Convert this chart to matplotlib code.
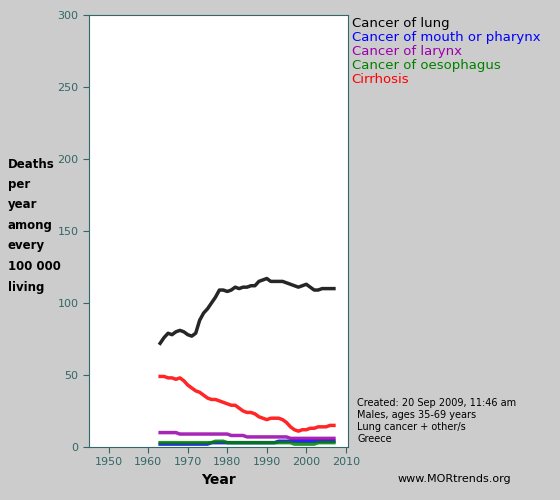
import numpy as np
import matplotlib
matplotlib.use("Agg")
import matplotlib.pyplot as plt

years = list(range(1963, 2008))
lung = [72, 76, 79, 78, 80, 81, 80, 78, 77, 79,
        88, 93, 96, 100, 104, 109, 109, 108, 109, 111,
        110, 111, 111, 112, 112, 115, 116, 117, 115, 115,
        115, 115, 114, 113, 112, 111, 112, 113, 111, 109,
        109, 110, 110, 110, 110]
mouth = [2, 2, 2, 2, 2, 2, 2, 2, 2, 2,
         2, 2, 2, 3, 3, 3, 3, 3, 3, 3,
         3, 3, 3, 3, 3, 3, 3, 3, 3, 3,
         4, 4, 4, 4, 4, 4, 4, 4, 4, 4,
         4, 4, 4, 4, 4]
larynx = [10, 10, 10, 10, 10, 9, 9, 9, 9, 9,
          9, 9, 9, 9, 9, 9, 9, 9, 8, 8,
          8, 8, 7, 7, 7, 7, 7, 7, 7, 7,
          7, 7, 7, 6, 6, 6, 6, 6, 6, 6,
          6, 6, 6, 6, 6]
oesophagus = [3, 3, 3, 3, 3, 3, 3, 3, 3, 3,
              3, 3, 3, 3, 4, 4, 4, 3, 3, 3,
              3, 3, 3, 3, 3, 3, 3, 3, 3, 3,
              3, 3, 3, 3, 2, 2, 2, 2, 2, 2,
              3, 3, 3, 3, 3]
cirrhosis = [49, 49, 48, 48, 47, 48, 46, 43, 41, 39,
             38, 36, 34, 33, 33, 32, 31, 30, 29, 29,
             27, 25, 24, 24, 23, 21, 20, 19, 20, 20,
             20, 19, 17, 14, 12, 11, 12, 12, 13, 13,
             14, 14, 14, 15, 15]

series = [("Cancer of lung", lung, "black"),
          ("Cancer of mouth or pharynx", mouth, "blue"),
          ("Cancer of larynx", larynx, "#9900aa"),
          ("Cancer of oesophagus", oesophagus, "green"),
          ("Cirrhosis", cirrhosis, "red")]

fig = plt.figure(figsize=(5.6, 5.0), dpi=100, facecolor="#cccccc")
ax = fig.add_axes([0.159, 0.106, 0.462, 0.864])
ax.set_facecolor("white")

for name, vals, col in series:
    ax.plot(years, vals, color=col, lw=2.5, alpha=0.85)

ax.set_xlim(1945, 2010.5)
ax.set_ylim(0, 300)
ax.set_xticks(range(1950, 2011, 10))
ax.set_yticks(range(0, 301, 50))
ax.tick_params(colors="#336666", labelsize=8, length=4)
for s in ax.spines.values():
    s.set_color("#336666")
ax.set_xlabel("Year", fontsize=10, fontweight="bold", labelpad=4)

for i, (name, vals, col) in enumerate(series):
    fig.text(0.628, 0.953 - i * 0.028, name, color=col, fontsize=9.5, va="center")

ylab = ["Deaths", "per", "year", "among", "every", "100 000", "living"]
for i, t in enumerate(ylab):
    fig.text(0.014, 0.672 - i * 0.041, t, fontsize=8.5, fontweight="bold", va="center")

notes = ["Created: 20 Sep 2009, 11:46 am", "Males, ages 35-69 years",
         "Lung cancer + other/s", "Greece"]
for i, t in enumerate(notes):
    fig.text(0.638, 0.195 - i * 0.024, t, fontsize=7, va="center")
fig.text(0.71, 0.043, "www.MORtrends.org", fontsize=8, va="center")

fig.savefig("out.png", dpi=100, facecolor=fig.get_facecolor())
